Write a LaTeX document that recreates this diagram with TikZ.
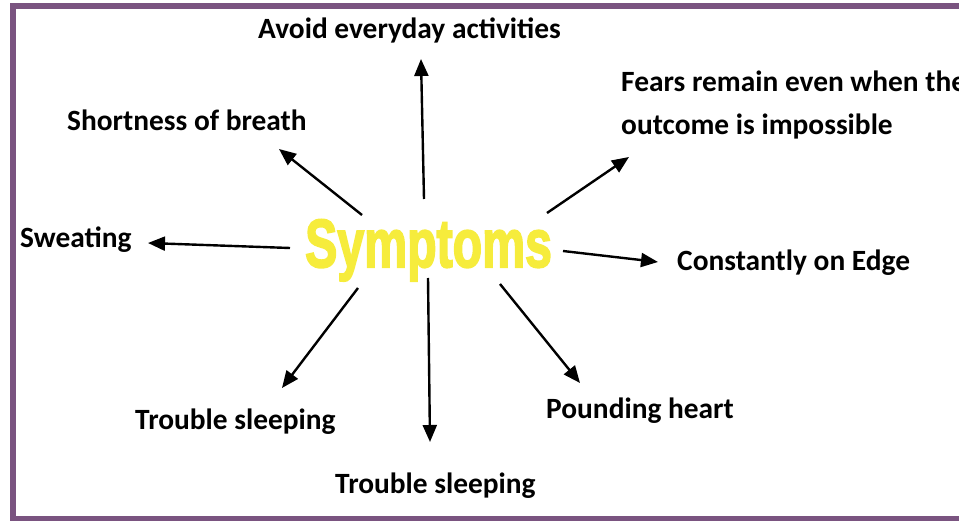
\documentclass[tikz,border=0pt]{standalone}
\usepackage{fontspec}
\setmainfont{Carlito}
\newfontfamily\symfont{Liberation Sans}[BoldFeatures={FakeBold=3}]
\usetikzlibrary{arrows.meta}
\definecolor{framepurple}{RGB}{122,84,128}
\definecolor{symyellow}{RGB}{246,236,60}
\tikzset{
  symtext/.style={anchor=base west, inner sep=0pt, align=left,
    font=\bfseries\fontsize{29.4}{43}\selectfont},
  arr/.style={-{Triangle[length=17pt,width=14pt]}, line width=2.4pt}
}
\begin{document}
\begin{tikzpicture}[x=1pt,y=-1pt]
\useasboundingbox (0,0) rectangle (959,521);
\clip (0,0) rectangle (959,521);
% frame
\draw[framepurple, line width=6pt] (13,6) rectangle (975,519);
% centre word
\node[anchor=base west, inner sep=0pt, xscale=0.71, text=symyellow,
  font=\symfont\bfseries\fontsize{68}{68}\selectfont] (symp) at (305,267) {Symptoms};
% symptoms
\node[symtext] (avoid) at (258,39) {Avoid everyday activities};
\node[symtext] (fears) at (621,135) {Fears remain even when the\\outcome is impossible};
\node[symtext] (breath) at (67,131) {Shortness of breath};
\node[symtext] (sweat) at (20,248) {Sweating};
\node[symtext] (edge) at (677,271) {Constantly on Edge};
\node[symtext] (sleepl) at (135,429) {Trouble sleeping};
\node[symtext] (heart) at (546,418) {Pounding heart};
\node[symtext] (sleepb) at (335,493) {Trouble sleeping};
% arrow ends
\coordinate (upS) at (424,199);    \coordinate (upT) at (421,59);
\coordinate (ulS) at (362,215);    \coordinate (ulT) at (279,149);
\coordinate (lfS) at (290,248);    \coordinate (lfT) at (148,243);
\coordinate (urS) at (547,213);    \coordinate (urT) at (629,157);
\coordinate (rtS) at (563,251);    \coordinate (rtT) at (658,262);
\coordinate (dlS) at (358,288);    \coordinate (dlT) at (282,388);
\coordinate (dnS) at (428,278);    \coordinate (dnT) at (430,442);
\coordinate (drS) at (500,284);    \coordinate (drT) at (580,383);
\foreach \s/\t in {upS/upT,ulS/ulT,lfS/lfT,urS/urT,rtS/rtT,dlS/dlT,dnS/dnT,drS/drT}
  \draw[arr] (\s) -- (\t);
\end{tikzpicture}
\end{document}
